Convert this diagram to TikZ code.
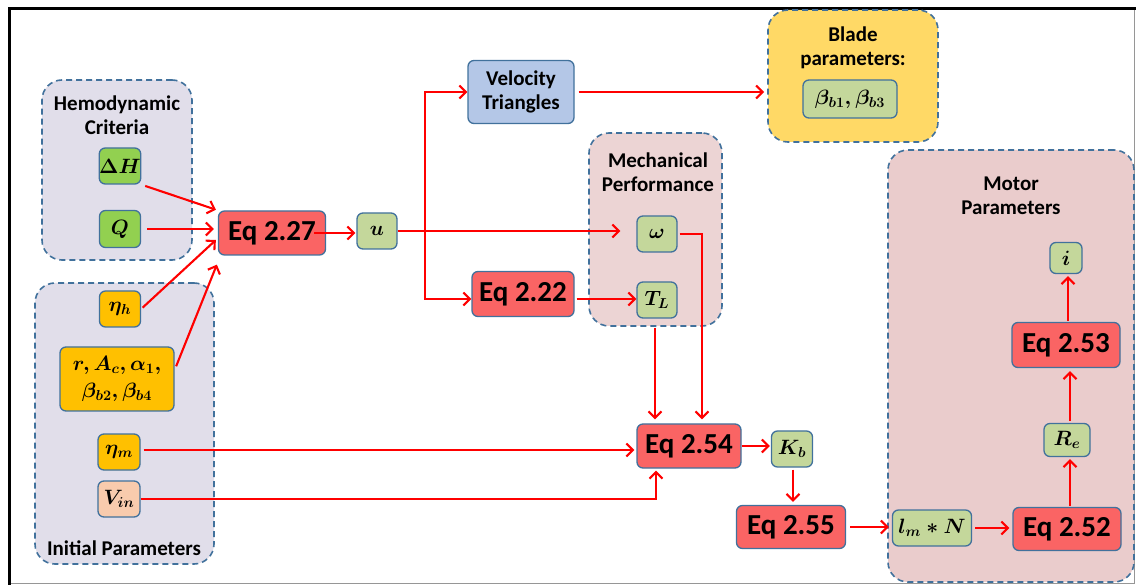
\documentclass[tikz,border=0pt]{standalone}
\usepackage[no-math]{fontspec}
\setmainfont{Carlito}
\usetikzlibrary{arrows.meta,calc}

\definecolor{edgeblue}{HTML}{41719C}
\definecolor{lavender}{RGB}{225,222,234}
\definecolor{rosegrp}{RGB}{234,204,204}
\definecolor{mechgrp}{RGB}{236,212,212}
\definecolor{bladegrp}{HTML}{FFD966}
\definecolor{eqred}{RGB}{250,100,100}
\definecolor{palegreen}{HTML}{C4D79B}
\definecolor{brightgreen}{HTML}{92D050}
\definecolor{amber}{HTML}{FFC000}
\definecolor{peach}{HTML}{F8CBAD}
\definecolor{skyblue}{HTML}{B4C7E7}
\definecolor{framegray}{RGB}{150,150,150}

\tikzset{
  grp/.style={draw=edgeblue, line width=1.6pt, dash pattern=on 6pt off 4pt,
    rounded corners=20pt, inner sep=0pt},
  grptitle/.style={font=\bfseries\fontsize{21}{24}\selectfont, align=center, inner sep=0pt},
  box/.style={draw=edgeblue, line width=1.3pt, rounded corners=6pt, inner sep=0pt,
    align=center, font=\fontsize{19.5}{27}\selectfont\boldmath},
  eqbox/.style={box, fill=eqred, font=\bfseries\fontsize{29}{31}\selectfont},
  var/.style={box, fill=palegreen, minimum width=40pt, minimum height=36pt},
  arr/.style={draw=red, line width=2.1pt, -{Straight Barb[length=6.5pt,width=13pt,line width=2.1pt]}},
}

\begin{document}
\begin{tikzpicture}[x=1pt,y=-1pt]
\useasboundingbox (0,0) rectangle (1136,585);

% outer frame
\draw[framegray, line width=1.2pt] (1134.5,9) -- (1134.5,583.5) -- (9,583.5);
\draw[black, line width=3.2pt] (9.5,585) -- (9.5,8.5) -- (1136,8.5);

% groups
\node[grp, fill=lavender, minimum width=150pt, minimum height=180pt] (hemo) at (117,170) {};
\node[grp, fill=lavender, minimum width=179pt, minimum height=281pt] (init) at (124.5,423.5) {};
\node[grp, fill=bladegrp, minimum width=170pt, minimum height=132pt] (blade) at (853,76) {};
\node[grp, fill=mechgrp, minimum width=133pt, minimum height=193pt] (mech) at (655.5,229.5) {};
\node[grp, fill=rosegrp, minimum width=246pt, minimum height=432pt] (motor) at (1011,366) {};

\node[grptitle] (hemot) at (117,115) {Hemodynamic\\Criteria};
\node[grptitle] (initt) at (124,548) {Initial Parameters};
\node[grptitle] (bladet) at (853,48) {Blade\\parameters:};
\node[grptitle] (mecht) at (658,172) {Mechanical\\Performance};
\node[grptitle] (motort) at (1011,196) {Motor\\Parameters};

% input quantities
\node[box, fill=brightgreen, minimum width=41pt, minimum height=36pt] (dH) at (120,166) {$\Delta H$};
\node[box, fill=brightgreen, minimum width=41pt, minimum height=37pt] (Q) at (120,229) {$Q$};
\node[box, fill=amber, minimum width=41pt, minimum height=36pt] (etah) at (120,309) {$\eta_h$};
\node[box, fill=amber, minimum width=114pt, minimum height=64pt] (geom) at (117,379)
  {$r, A_c, \alpha_1,$\\$\beta_{b2}, \beta_{b4}$};
\node[box, fill=amber, minimum width=42pt, minimum height=36pt] (etam) at (119,452) {$\eta_m$};
\node[box, fill=peach, minimum width=42pt, minimum height=36pt] (vin) at (119,499) {$V_{in}$};

% equations and results
\node[eqbox, minimum width=107pt, minimum height=44pt] (eq227) at (272,233) {Eq 2.27};
\node[var] (u) at (377,231) {$u$};
\node[box, fill=skyblue, minimum width=106pt, minimum height=63pt,
  font=\bfseries\fontsize{21}{24}\selectfont] (vt) at (521,92) {Velocity\\Triangles};
\node[box, fill=palegreen, minimum width=94pt, minimum height=38pt] (beta) at (850,99) {$\beta_{b1}, \beta_{b3}$};
\node[var] (om) at (657,234) {$\omega$};
\node[var] (TL) at (657,300) {$T_L$};
\node[eqbox, minimum width=102pt, minimum height=45pt] (eq222) at (523,294) {Eq 2.22};
\node[eqbox, minimum width=104pt, minimum height=44pt] (eq254) at (689,446) {Eq 2.54};
\node[var, minimum width=41pt] (Kb) at (792,449) {$K_b$};
\node[eqbox, minimum width=109pt, minimum height=43pt] (eq255) at (791,527) {Eq 2.55};
\node[var, minimum width=79pt] (lm) at (932,528) {$l_m * N$};
\node[eqbox, minimum width=108pt, minimum height=43pt] (eq252) at (1067,529) {Eq 2.52};
\node[var, minimum width=46pt, minimum height=33pt] (Re) at (1067,440) {$R_e$};
\node[eqbox, minimum width=108pt, minimum height=45pt] (eq253) at (1066,345) {Eq 2.53};
\node[var, minimum width=32pt, minimum height=31pt] (ic) at (1066,258) {$i$};

% helper points for the connectors
\coordinate (br) at (425,231);
\coordinate (tlout) at ($(TL.south)+(-2,0)$);
\coordinate (etamout) at ($(etam.east)+(0,-2)$);
\coordinate (kbout) at ($(Kb.south)+(1,0)$);
\coordinate (e252out) at ($(eq252.north)+(3,0)$);
\coordinate (reout) at ($(Re.north)+(3,0)$);
\coordinate (e253out) at ($(eq253.north)+(2,0)$);
\coordinate (e222in) at ($(eq222.west)+(0,5)$);
\coordinate (e222out) at ($(eq222.east)+(0,5)$);
\coordinate (e227low) at ($(eq227.west)+(-2,7)$);
\coordinate (e227foot) at ($(eq227.south west)+(-1,9)$);
\coordinate (geomout) at ($(geom.east)+(0,-9)$);
\coordinate (e254top) at ($(eq254.north)+(13,0)$);
\coordinate (e254foot) at ($(eq254.south)+(-33,0)$);

% connectors
\draw[arr, shorten <=4pt, shorten >=2pt] (dH.south east) -- (eq227.north west);
\draw[arr, shorten <=6pt, shorten >=4pt] (Q.east) -- (Q.east -| eq227.west);
\draw[arr, shorten <=2pt] (etah.east) -- (e227low);
\draw[arr, shorten <=4pt] (geomout) -- (e227foot);
\draw[arr, shorten <=-12pt, shorten >=1pt] (eq227.east) -- (eq227.east -| u.west);
\draw[arr, shorten >=16pt] (u.east) -- (u.east -| om.west);
\draw[arr] (br) |- (vt.west);
\draw[arr] (br) |- (e222in);
\draw[arr, shorten <=4pt, shorten >=3pt] (vt.east) -- (vt.east -| blade.west);
\draw[arr, shorten <=2pt] (e222out) -- (e222out -| TL.west);
\draw[arr, shorten <=9pt, shorten >=4pt] (tlout) -- (tlout |- eq254.north);
\draw[arr, shorten <=2pt, shorten >=4pt] (om.east) -| (e254top);
\draw[arr, shorten <=3pt, shorten >=2pt] (etamout) -- (etamout -| eq254.west);
\draw[arr, shorten >=2pt] (vin.east) -| (e254foot);
\draw[arr, shorten >=1pt] (eq254.east) -- (eq254.east -| Kb.west);
\draw[arr, shorten <=2pt, shorten >=3pt] (kbout) -- (kbout |- eq255.north);
\draw[arr, shorten <=4pt, shorten >=3pt] (eq255.east) -- (eq255.east -| lm.west);
\draw[arr, shorten <=3pt, shorten >=3pt] (lm.east) -- (lm.east -| eq252.west);
\draw[arr, shorten <=1pt, shorten >=2pt] (e252out) -- (e252out |- Re.south);
\draw[arr, shorten <=2pt, shorten >=3pt] (reout) -- (reout |- eq253.south);
\draw[arr, shorten <=1pt, shorten >=2pt] (e253out) -- (e253out |- ic.south);
\end{tikzpicture}
\end{document}
